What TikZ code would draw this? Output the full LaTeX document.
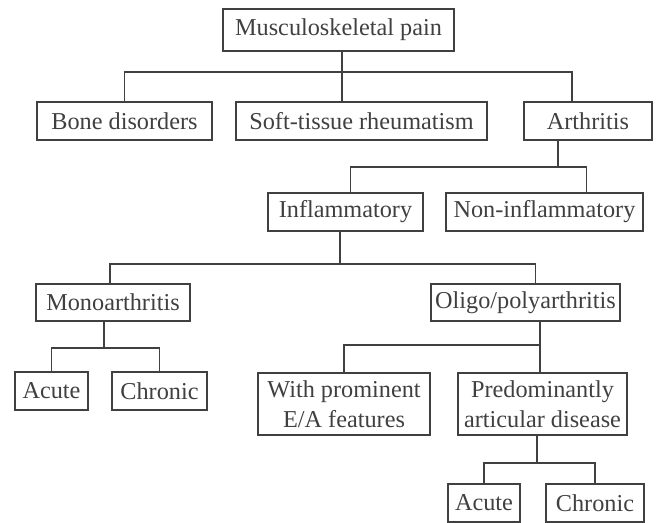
\documentclass[tikz,border=0pt]{standalone}
\usepackage{fontspec}
\setmainfont{Liberation Serif}
\usetikzlibrary{calc}
\definecolor{ink}{gray}{0.25}

\begin{document}
\begin{tikzpicture}[x=0.03cm, y=-0.03cm,
		box/.style={rectangle, draw=ink, text=ink, line width=1.4pt, inner sep=0mm, align=center, font=\fontsize{20.7}{25.5}\selectfont},
		link/.style={draw=ink, line width=1.3pt}]
		\useasboundingbox (0, 0) rectangle (658, 523);
		\node[box, minimum width=6.93cm, minimum height=1.26cm] (musc) at (338.5, 30) {Musculoskeletal pain};
		\node[box, minimum width=5.25cm, minimum height=1.14cm] (bone) at (124.5, 121) {Bone disorders};
		\node[box, minimum width=7.53cm, minimum height=1.14cm] (soft) at (361.5, 121) {Soft-tissue rheumatism};
		\node[box, minimum width=3.84cm, minimum height=1.14cm] (arth) at (588, 121) {Arthritis};
		\node[box, minimum width=4.65cm, minimum height=1.14cm] (inflam) at (345.5, 212) {Inflammatory};
		\node[box, minimum width=5.91cm, minimum height=1.14cm] (noninflam) at (544.5, 212) {Non-inflammatory};
		\node[box, minimum width=4.62cm, minimum height=1.11cm] (mono) at (113, 302.5) {Monoarthritis};
		\node[box, minimum width=5.67cm, minimum height=1.11cm] (oligo) at (525.5, 302.5) {Oligo/polyarthritis};
		\node[box, minimum width=2.19cm, minimum height=1.14cm] (monoacute) at (51.5, 391) {Acute};
		\node[box, minimum width=2.85cm, minimum height=1.14cm] (monochronic) at (159.5, 391) {Chronic};
		\node[box, minimum width=5.16cm, minimum height=1.86cm] (extra) at (344, 404) {With prominent \\ E/A features};
		\node[box, minimum width=5.07cm, minimum height=1.86cm] (articular) at (542.5, 404) {Predominantly \\ articular disease};
		\node[box, minimum width=2.16cm, minimum height=1.14cm] (artacute) at (484, 503) {Acute};
		\node[box, minimum width=2.94cm, minimum height=1.14cm] (artchronic) at (595, 503) {Chronic};
		\coordinate (fork1) at (342, 72);
		\coordinate (fork2) at (558, 167);
		\coordinate (fork3) at (340, 264);
		\coordinate (fork4) at (104, 348);
		\coordinate (fork5) at (540, 345);
		\coordinate (fork6) at (537, 463);
		\draw[link] (musc.south -| fork1) -- (fork1);
		\draw[link] (fork1) -| (bone.north);
		\draw[link] (fork1) -- (soft.north -| fork1);
		\draw[link] (fork1) -| ($(arth.north)+(-16, 0)$);
		\draw[link] (arth.south -| fork2) -- (fork2);
		\draw[link] (fork2) -| ($(inflam.north)+(5, 0)$);
		\draw[link] (fork2) -| ($(noninflam.north)+(42, 0)$);
		\draw[link] (inflam.south -| fork3) -- (fork3);
		\draw[link] (fork3) -| ($(mono.north)+(-3, 0)$);
		\draw[link] (fork3) -| ($(oligo.north)+(10, 0)$);
		\draw[link] (mono.south -| fork4) -- (fork4);
		\draw[link] (fork4) -| (monoacute.north);
		\draw[link] (fork4) -| (monochronic.north);
		\draw[link] (oligo.south -| fork5) -- (fork5);
		\draw[link] (fork5) -| (extra.north);
		\draw[link] (fork5) -- (articular.north -| fork5);
		\draw[link] (articular.south -| fork6) -- (fork6);
		\draw[link] (fork6) -| (artacute.north);
		\draw[link] (fork6) -| (artchronic.north);
	\end{tikzpicture}
\end{document}
